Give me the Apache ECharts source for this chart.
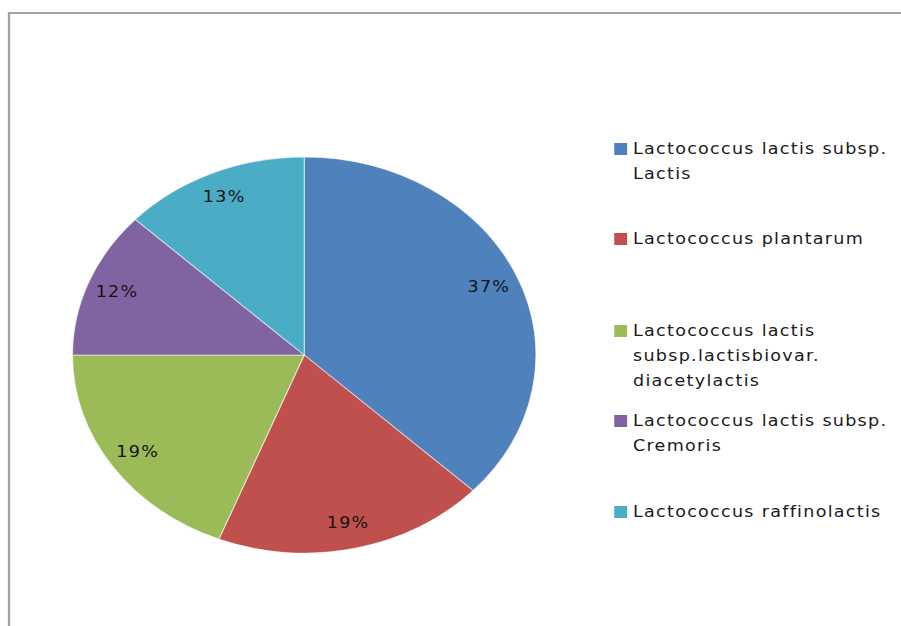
<!DOCTYPE html>
<html>
<head>
<meta charset="utf-8">
<script src="https://cdn.jsdelivr.net/npm/echarts@6/dist/echarts.min.js"></script>
<style>
    html, body { margin: 0; padding: 0; background: #fff; overflow: hidden; }
    /* the original picture is stretched sideways, so the chart is drawn narrow and scaled */
    #pieChart { width: 770px; height: 626px; transform: scaleX(1.17); transform-origin: 0 0; letter-spacing: 1.1px; }
</style>
</head>
<body>
<div id="pieChart"></div>
<script>
var names = [
    'Lactococcus lactis subsp.\nLactis',
    'Lactococcus plantarum',
    'Lactococcus lactis\nsubsp.lactisbiovar.\ndiacetylactis',
    'Lactococcus lactis subsp.\nCremoris',
    'Lactococcus raffinolactis'
];
var shares = [37, 19, 19, 12, 13];
var colors = ['#4F81BD', '#C0504D', '#9BBB59', '#8064A2', '#4BACC6'];

// y of each legend icon (excel spaces them unevenly)
var legendRows = [149, 239, 331, 421, 512];
var lineH = 25;

var pieData = names.map(function (n, i) {
    return { name: n, value: shares[i] };
});

// one legend per item; the icon path is as tall as the text block
// with the square drawn at the first line, like excel does
var legends = names.map(function (n, i) {
    var lines = n.split('\n').length;
    var h = lines * lineH;
    var sq = (lineH - 12) / 2;
    return {
        data: [n],
        left: 525,
        top: legendRows[i] - lineH / 2,
        padding: 0,
        icon: 'path://M0,0M0,' + h + 'M0,' + sq + 'h11v12h-11z',
        itemWidth: 11,
        itemHeight: h,
        selectedMode: false,
        itemStyle: { borderWidth: 0 },
        textStyle: {
            fontFamily: 'DejaVu Sans',
            fontSize: 15,
            color: '#1a1a1a',
            lineHeight: lineH
        }
    };
});

var myChart = echarts.init(document.getElementById('pieChart'), null, { renderer: 'svg' });
myChart.setOption({
    animation: false,
    color: colors,
    legend: legends,
    graphic: [{
        type: 'rect',
        silent: true,
        shape: { x: 7.7, y: 13, width: 900, height: 700 },
        style: { fill: 'none', stroke: '#a3a3a3', lineWidth: 2 }
    }],
    series: [{
        type: 'pie',
        center: [260, 355],
        radius: 198,
        startAngle: 90,
        clockwise: true,
        silent: true,
        data: pieData,
        label: { show: false },
        labelLine: { show: false },
        itemStyle: { borderColor: 'rgba(255,255,255,0.55)', borderWidth: 1 },
        emphasis: { disabled: true }
    }, {
        // see-through ring, only used to put the percent labels near the rim
        type: 'pie',
        center: [260, 355],
        radius: [140, 198],
        startAngle: 90,
        clockwise: true,
        silent: true,
        percentPrecision: 0,
        data: pieData,
        itemStyle: { color: 'rgba(0,0,0,0)' },
        label: {
            show: true,
            position: 'inside',
            formatter: '{d}%',
            fontFamily: 'DejaVu Sans',
            fontSize: 15,
            color: '#141414'
        },
        labelLine: { show: false },
        emphasis: { disabled: true }
    }]
});
</script>
</body>
</html>
